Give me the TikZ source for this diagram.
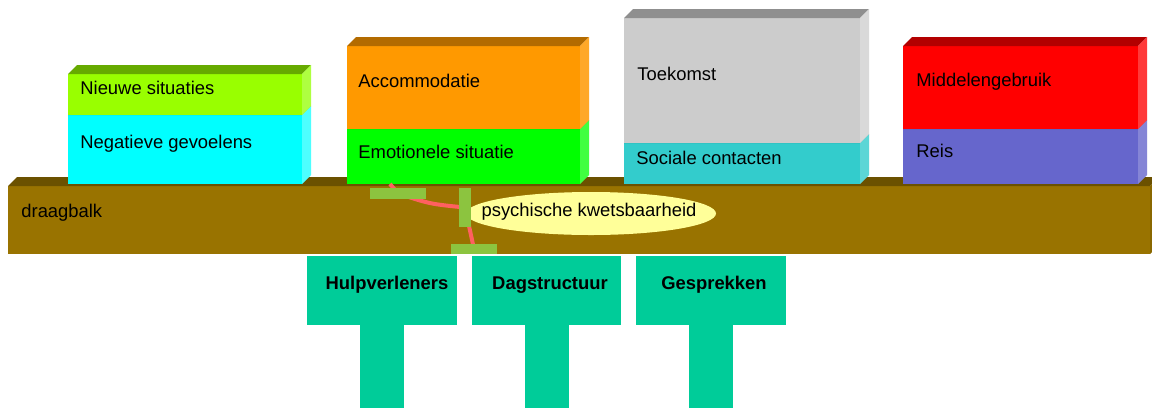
\documentclass[tikz,border=0pt]{standalone}
\usepackage{fontspec}
\setmainfont{Liberation Sans}
\usetikzlibrary{shapes.geometric}
\definecolor{beamF}{HTML}{997300}
\definecolor{beamT}{HTML}{6B5100}
\definecolor{beamS}{HTML}{8A6800}
\definecolor{teal}{HTML}{00CC99}
\definecolor{gbarc}{HTML}{8CC43F}
\definecolor{redl}{HTML}{FF6060}
\definecolor{ellc}{HTML}{FFFF99}
\definecolor{cyF}{HTML}{00FFFF}\definecolor{cyT}{HTML}{00B3B3}\definecolor{cyS}{HTML}{4DFFFF}
\definecolor{lgF}{HTML}{99FF00}\definecolor{lgT}{HTML}{66AA00}\definecolor{lgS}{HTML}{AEFF40}
\definecolor{grF}{HTML}{00FF00}\definecolor{grT}{HTML}{00AA00}\definecolor{grS}{HTML}{40FF40}
\definecolor{orF}{HTML}{FF9900}\definecolor{orT}{HTML}{B36B00}\definecolor{orS}{HTML}{FFA828}
\definecolor{scF}{HTML}{33CCCC}\definecolor{scT}{HTML}{238F8F}\definecolor{scS}{HTML}{5CD6D6}
\definecolor{gyF}{HTML}{CCCCCC}\definecolor{gyT}{HTML}{8F8F8F}\definecolor{gyS}{HTML}{D9D9D9}
\definecolor{blF}{HTML}{6666CC}\definecolor{blT}{HTML}{47478F}\definecolor{blS}{HTML}{8585D6}
\definecolor{rdF}{HTML}{FF0000}\definecolor{rdT}{HTML}{B30000}\definecolor{rdS}{HTML}{FF3A3A}
% slab: x1 y1 x2 y2 front top side
\newcommand\slab[7]{%
  \fill[#5] (#1,#2) rectangle (#3,#4);
  \fill[#6] (#1,#2) -- ({#1+9},{#2-9}) -- ({#3+9},{#2-9}) -- (#3,#2) -- cycle;
  \fill[#7] (#3,#2) -- ({#3+9},{#2-9}) -- ({#3+9},{#4-9}) -- (#3,#4) -- cycle;
}
\newcommand\tshape[3]{% x1 x2 stem-left
  \fill[teal] (#1,256) rectangle (#2,325);
  \fill[teal] (#3,325) rectangle ({#3+44},408);
}
\begin{document}
\begin{tikzpicture}[x=0.5pt,y=-0.5pt,
  lbl/.style={anchor=west,inner sep=0pt,font=\fontsize{9.2}{11}\selectfont},
  blbl/.style={inner sep=0pt,font=\bfseries\fontsize{9.2}{11}\selectfont},
  gbar/.style={fill=gbarc,inner sep=0pt,draw=none},
  redline/.style={draw=redl,line width=2pt}]
\useasboundingbox (0,0) rectangle (1152,408);
\fill[white] (0,0) rectangle (1152,408);
% beam
\begin{scope}
\clip (0,0) rectangle (1152,408);
\slab{8}{186}{1150}{254}{beamF}{beamT}{beamS}
\end{scope}
% box 1
\slab{68}{115}{302}{184}{cyF}{cyT}{cyS}
\slab{68}{74}{302}{115}{lgF}{lgT}{lgS}
% box 2
\slab{347}{129}{580}{184}{grF}{grT}{grS}
\slab{347}{46}{580}{129}{orF}{orT}{orS}
% box 3
\slab{624}{143}{860}{184}{scF}{scT}{scS}
\slab{624}{18}{860}{143}{gyF}{gyT}{gyS}
% box 4
\slab{903}{129}{1138}{184}{blF}{blT}{blS}
\slab{903}{46}{1138}{129}{rdF}{rdT}{rdS}
% T shapes
\tshape{307}{457}{360}
\tshape{472}{621}{525}
\tshape{636}{786}{689}
% ellipse
\fill[ellc] (591,213.5) ellipse [x radius=125, y radius=21.5];
\node[inner sep=0pt,font=\fontsize{9.2}{11}\selectfont] (psy) at (589,212) {psychische kwetsbaarheid};
% red links and bars
\coordinate (r0) at (390,184);
\coordinate (b1) at (398,193.5);
\coordinate (vb) at (465,207.5);
\coordinate (bb) at (474,249);
\draw[redline] (r0) -- (b1);
\draw[redline] (b1) .. controls (430,204) .. (vb);
\draw[redline] (vb) -- (bb);
\node[gbar,minimum width=28pt,minimum height=5.5pt] (bar1) at (b1) {};
\node[gbar,minimum width=6pt,minimum height=19.5pt] (bar2) at (vb) {};
\node[gbar,minimum width=23pt,minimum height=5pt] (bar3) at (bb) {};
% labels
\node[lbl] (nieuwe) at (80,88) {Nieuwe situaties};
\node[lbl] (negatief) at (80,144) {Negatieve gevoelens};
\node[lbl] (draag) at (21,213) {draagbalk};
\node[lbl] (accom) at (358,81) {Accommodatie};
\node[lbl] (emo) at (358,152) {Emotionele situatie};
\node[lbl] (toek) at (637,74) {Toekomst};
\node[lbl] (soc) at (636,158) {Sociale contacten};
\node[lbl] (midd) at (916,82) {Middelengebruik};
\node[lbl] (reis) at (916,151) {Reis};
\node[blbl] (hulp) at (387,285) {Hulpverleners};
\node[blbl] (dag) at (550,285) {Dagstructuur};
\node[blbl] (gesp) at (714,285) {Gesprekken};
\end{tikzpicture}
\end{document}
